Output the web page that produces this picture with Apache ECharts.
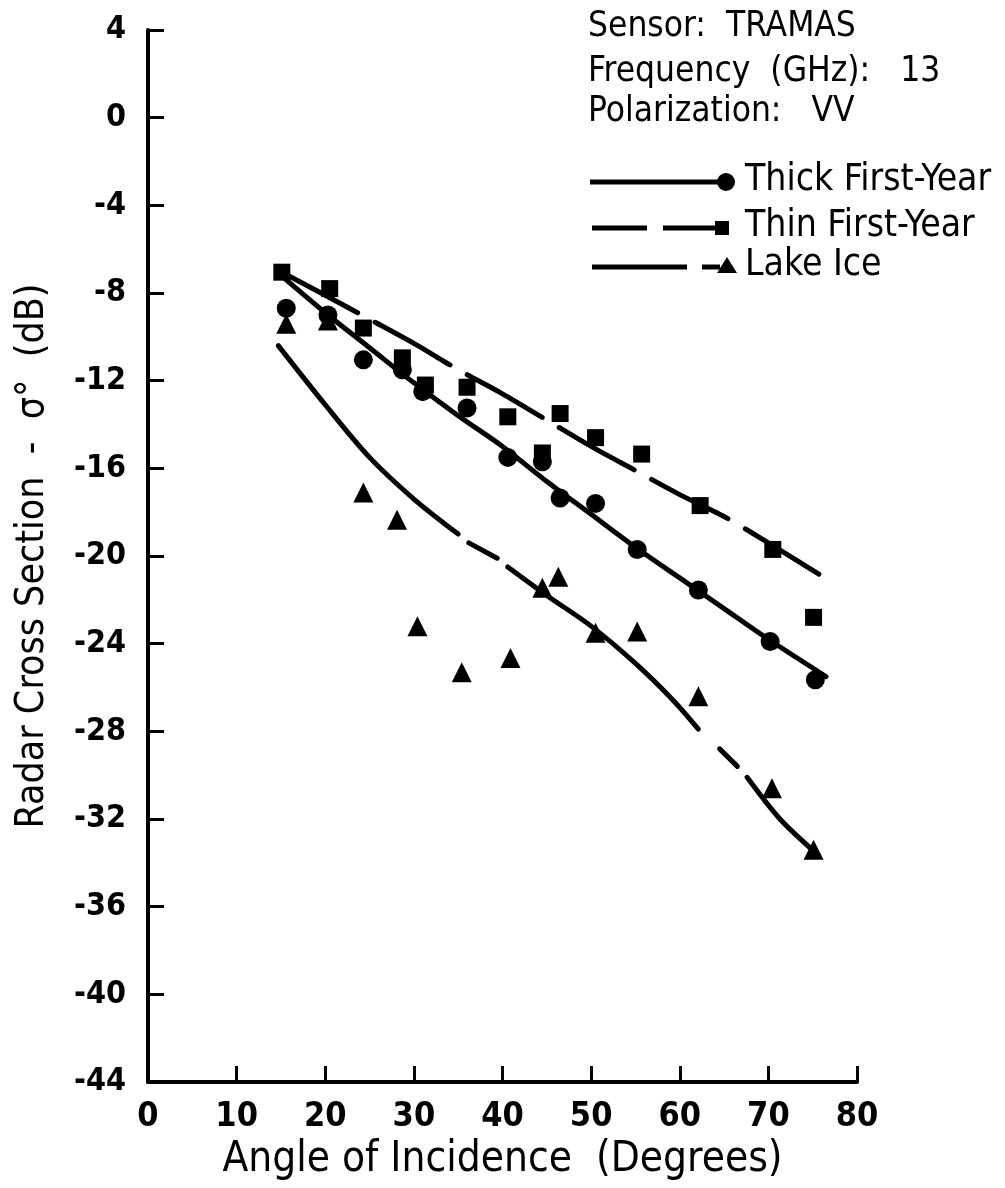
<!DOCTYPE html>
<html>
<head>
<meta charset="utf-8">
<script src="https://cdn.jsdelivr.net/npm/echarts@6/dist/echarts.min.js"></script>
<style>
  html, body { margin: 0; padding: 0; background: #fff; }
  #main { width: 1005px; height: 1188px; }
</style>
</head>
<body>
<div id="main"></div>
<script>
// measured points [angle, dB]
const thickPts = [[15.6,-8.7],[20.3,-9.0],[24.3,-11.05],[28.7,-11.5],[31,-12.5],[36,-13.25],[40.6,-15.5],[44.5,-15.7],[46.5,-17.35],[50.5,-17.6],[55.2,-19.7],[62.1,-21.55],[70.2,-23.9],[75.3,-25.65]];
const thinPts = [[15.1,-7.05],[20.5,-7.8],[24.3,-9.6],[28.7,-10.96],[31.3,-12.2],[36,-12.3],[40.6,-13.65],[44.5,-15.3],[46.5,-13.5],[50.5,-14.6],[55.7,-15.35],[62.3,-17.7],[70.5,-19.7],[75.1,-22.8]];
const lakePts = [[15.6,-9.4],[20.3,-9.25],[24.3,-17.1],[28.1,-18.35],[30.4,-23.2],[35.4,-25.3],[40.9,-24.65],[44.5,-21.45],[46.3,-20.95],[50.5,-23.5],[55.2,-23.45],[62.1,-26.4],[70.4,-30.6],[75.1,-33.4]];

// hand drawn fit curves
const thickCurve = [[15.3,-7.3],[20,-8.9],[25,-10.5],[30,-12.1],[35,-13.6],[40,-15.0],[45,-16.6],[50,-18.1],[55,-19.6],[60,-21.0],[65,-22.4],[70,-23.8],[76.5,-25.5]];
const thinCurve = [[15.1,-7.05],[20,-8.1],[25,-9.2],[30,-10.3],[35,-11.5],[40,-12.6],[45,-13.8],[50,-15.0],[55,-16.1],[60,-17.2],[65,-18.2],[70,-19.4],[76,-20.9]];
// lake ice curve, drawn piece by piece (solid / short dash / solid ...)
const lakeSeg1 = [[14.7,-10.4],[20,-13.1],[25,-15.5],[30,-17.4],[35,-19.0]];
const lakeSeg2 = [[36.2,-19.4],[39.4,-20.1]];
const lakeSeg3 = [[40.6,-20.5],[45,-21.8],[50,-23.2],[55,-24.9],[59.3,-26.6],[62.1,-27.9]];
const lakeSeg4 = [[64.5,-28.8],[66.5,-29.6]];
const lakeSeg5 = [[67.6,-30.1],[71.3,-32.0],[75.5,-33.6]];

const xTicks = [0, 80, 10];
const yTicks = [-44, 4, 4];

const infoLines = ["Sensor:  TRAMAS", "Frequency  (GHz):   13", "Polarization:   VV"];
const legendNames = ["Thick First-Year", "Thin First-Year", "Lake Ice"];

const FONT = "DejaVu Sans Condensed";
var myChart = echarts.init(document.getElementById("main"));

function fitLine(data, type) {
  return {
    type: "line",
    data: data,
    smooth: 0.3,
    symbol: "none",
    silent: true,
    lineStyle: { color: "#000", width: 5, type: type || "solid", cap: "round" },
    z: 2,
  };
}
function dots(data, symbol, size) {
  return {
    type: "scatter",
    data: data,
    symbol: symbol,
    symbolSize: size,
    itemStyle: { color: "#000", opacity: 1 },
    z: 3,
  };
}

// legend drawn by hand: line sample, marker, label
var g = [];
var infoY = [27, 72, 112];
infoLines.forEach((t, i) => {
  g.push({
    type: "text", x: 588, y: infoY[i],
    style: { text: t, fontFamily: FONT, fontSize: 35, fill: "#000", textVerticalAlign: "middle" },
  });
});
var rowY = [182, 228, 267];
var ls = { stroke: "#000", lineWidth: 5 };
g.push({ type: "line", shape: { x1: 590, y1: rowY[0], x2: 722, y2: rowY[0] }, style: ls });
g.push({ type: "circle", shape: { cx: 726, cy: rowY[0], r: 9 }, style: { fill: "#000" } });
g.push({ type: "line", shape: { x1: 592, y1: rowY[1], x2: 647, y2: rowY[1] }, style: ls });
g.push({ type: "line", shape: { x1: 663, y1: rowY[1], x2: 720, y2: rowY[1] }, style: ls });
g.push({ type: "rect", shape: { x: 715, y: rowY[1] - 7, width: 14, height: 14 }, style: { fill: "#000" } });
g.push({ type: "line", shape: { x1: 592, y1: rowY[2], x2: 687, y2: rowY[2] }, style: ls });
g.push({ type: "line", shape: { x1: 702, y1: rowY[2], x2: 720, y2: rowY[2] }, style: ls });
g.push({ type: "polygon", shape: { points: [[727, rowY[2] - 10], [737, rowY[2] + 6], [717, rowY[2] + 6]] }, style: { fill: "#000" } });
legendNames.forEach((t, i) => {
  g.push({
    type: "text", x: 745, y: rowY[i] - 2,
    style: { text: t, fontFamily: FONT, fontSize: 37, fill: "#000", textVerticalAlign: "middle" },
  });
});

var option = {
  backgroundColor: "#fff",
  animation: false,
  grid: { left: 148, right: 148, top: 30, bottom: 106 },
  xAxis: {
    type: "value",
    min: xTicks[0],
    max: xTicks[1],
    interval: xTicks[2],
    name: "Angle of Incidence  (Degrees)",
    nameLocation: "middle",
    nameGap: 56,
    nameTextStyle: { fontFamily: FONT, fontSize: 42, color: "#000" },
    axisLine: { onZero: false, lineStyle: { color: "#000", width: 4 } },
    axisTick: { inside: true, length: 16, lineStyle: { color: "#000", width: 3 } },
    axisLabel: { margin: 18, fontFamily: FONT, fontWeight: "bold", fontSize: 34, color: "#000" },
    splitLine: { show: false },
  },
  yAxis: {
    type: "value",
    min: yTicks[0],
    max: yTicks[1],
    interval: yTicks[2],
    name: "Radar Cross Section  -  σ°  (dB)",
    nameLocation: "middle",
    nameGap: 96,
    nameTextStyle: { fontFamily: FONT, fontSize: 39, color: "#000" },
    axisLine: { onZero: false, lineStyle: { color: "#000", width: 4 } },
    axisTick: { inside: true, length: 16, lineStyle: { color: "#000", width: 3 } },
    axisLabel: { margin: 22, fontFamily: FONT, fontWeight: "bold", fontSize: 32, color: "#000" },
    splitLine: { show: false },
  },
  graphic: g,
  series: [
    fitLine(thickCurve),
    fitLine(thinCurve, [86, 20]),
    fitLine(lakeSeg1),
    fitLine(lakeSeg2),
    fitLine(lakeSeg3),
    fitLine(lakeSeg4),
    fitLine(lakeSeg5),
    dots(thickPts, "circle", 19),
    dots(thinPts, "rect", 17),
    dots(lakePts, "triangle", 20),
  ],
};
myChart.setOption(option);
</script>
</body>
</html>
